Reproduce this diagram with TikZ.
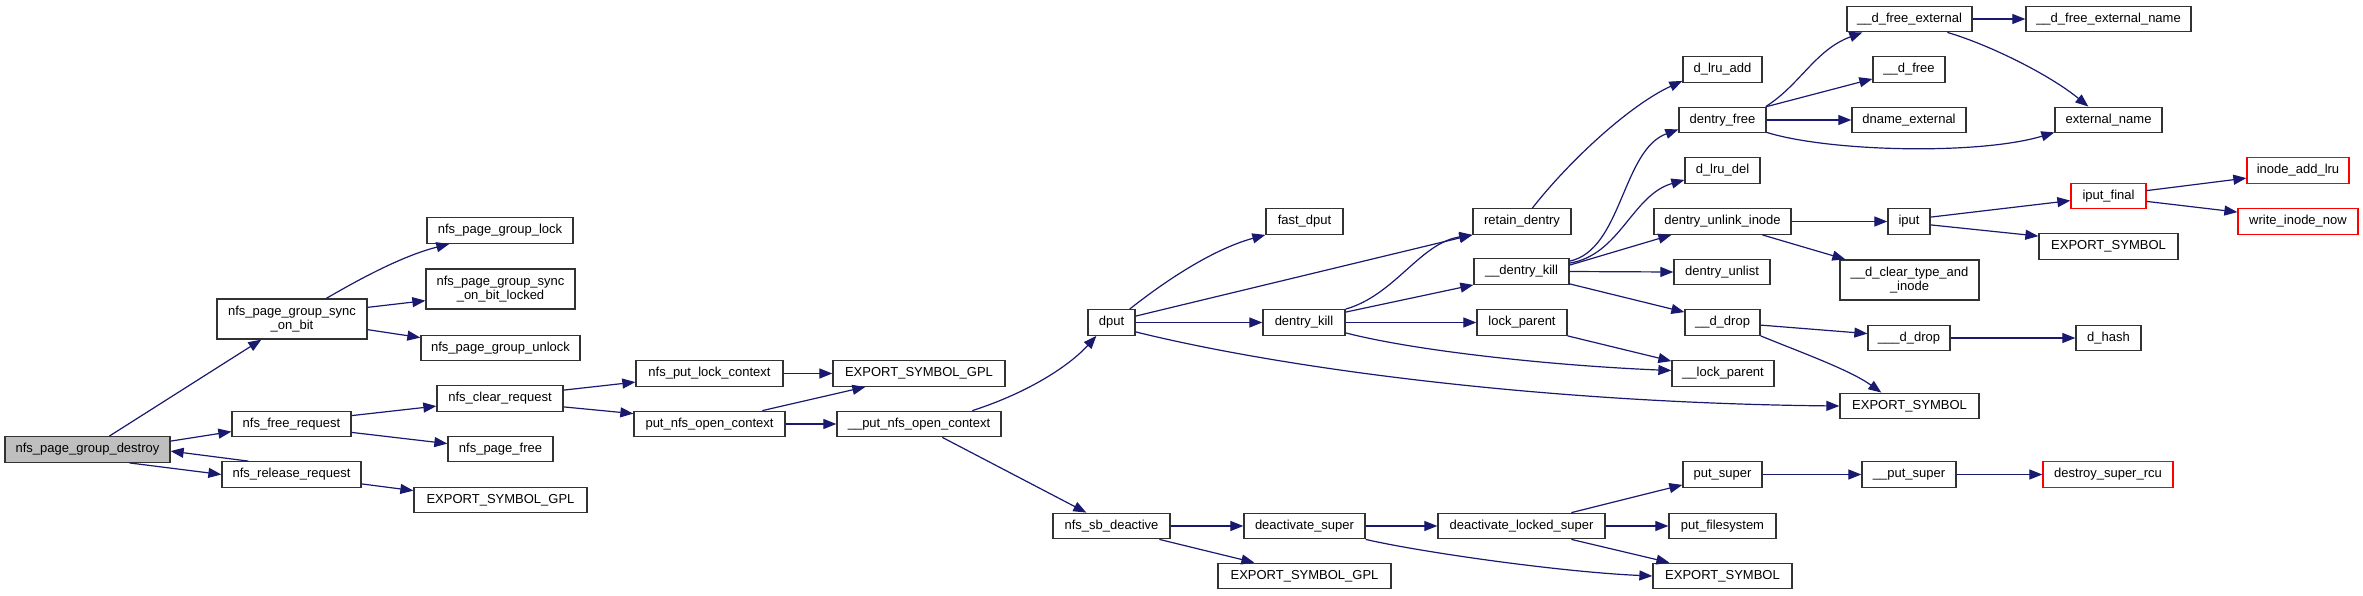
\documentclass[tikz,border=0pt]{standalone}
\usepackage{fontspec}
\setmainfont{Liberation Sans}
\usetikzlibrary{arrows.meta,calc}
\definecolor{edgecol}{RGB}{25,25,112}
\definecolor{boxline}{RGB}{50,50,50}
\begin{document}
\begin{tikzpicture}[x=1pt,y=-1pt,
  box/.style={draw=boxline, line width=1.3pt, fill=white, inner sep=0pt, minimum height=25.5pt, font=\fontsize{13}{14}\selectfont, align=center},
  boxtwo/.style={box, minimum height=40pt},
  rootbox/.style={fill=black!25},
  redbox/.style={draw=red},
  edge/.style={draw=edgecol, line width=1.2pt, -{Triangle[length=13pt,width=10pt]}}]
\fill[white] (0,0) rectangle (2363,595);
\useasboundingbox (0,0) rectangle (2363,595);
% column 0
\node[box,rootbox,minimum width=165pt] (destroy) at (87.5,449.5) {nfs\_page\_group\_destroy};
% column 1
\node[boxtwo,minimum width=150pt] (sync) at (292,319) {nfs\_page\_group\_sync\\\_on\_bit};
\node[box,minimum width=119pt] (freereq) at (291.5,424) {nfs\_free\_request};
\node[box,minimum width=139pt] (release) at (291.5,474.5) {nfs\_release\_request};
% column 2
\node[box,minimum width=146pt] (lock) at (500,230.5) {nfs\_page\_group\_lock};
\node[boxtwo,minimum width=149pt] (locked) at (500.5,289) {nfs\_page\_group\_sync\\\_on\_bit\_locked};
\node[box,minimum width=159pt] (unlock) at (500.5,348) {nfs\_page\_group\_unlock};
\node[box,minimum width=126pt] (clear) at (500,398.5) {nfs\_clear\_request};
\node[box,minimum width=105pt] (pagefree) at (500.5,449) {nfs\_page\_free};
\node[box,minimum width=173pt] (esgone) at (500.5,500) {EXPORT\_SYMBOL\_GPL};
% column 3
\node[box,minimum width=147pt] (putlock) at (709.5,373.5) {nfs\_put\_lock\_context};
\node[box,minimum width=151pt] (putopen) at (709.5,424) {put\_nfs\_open\_context};
% column 4
\node[box,minimum width=172pt] (esgtwo) at (919,373.5) {EXPORT\_SYMBOL\_GPL};
\node[box,minimum width=164pt] (putopentwo) at (919,424) {\_\_put\_nfs\_open\_context};
% column 5
\node[box,minimum width=47pt] (dput) at (1111.5,322.5) {dput};
\node[box,minimum width=117pt] (sbdeact) at (1111.5,526) {nfs\_sb\_deactive};
% column 6
\node[box,minimum width=77pt] (fastdput) at (1304.5,221.5) {fast\_dput};
\node[box,minimum width=82pt] (dkill) at (1304,322.5) {dentry\_kill};
\node[box,minimum width=121pt] (deactsuper) at (1304.5,526) {deactivate\_super};
\node[box,minimum width=173pt] (esgthree) at (1304.5,576) {EXPORT\_SYMBOL\_GPL};
% column 7
\node[box,minimum width=98pt] (retain) at (1522,221.5) {retain\_dentry};
\node[box,minimum width=95pt] (udkill) at (1521.5,271.5) {\_\_dentry\_kill};
\node[box,minimum width=90pt] (lockparent) at (1522,322.5) {lock\_parent};
\node[box,minimum width=167pt] (deactlocked) at (1521.5,526) {deactivate\_locked\_super};
% column 8
\node[box,minimum width=79pt] (dlruadd) at (1722.5,69.5) {d\_lru\_add};
\node[box,minimum width=87pt] (dfree) at (1722.5,120) {dentry\_free};
\node[box,minimum width=75pt] (dlrudel) at (1722.5,170.5) {d\_lru\_del};
\node[box,minimum width=137pt] (unlinkinode) at (1722.5,221.5) {dentry\_unlink\_inode};
\node[box,minimum width=96pt] (unlist) at (1722,272) {dentry\_unlist};
\node[box,minimum width=75pt] (uddrop) at (1722.5,322.5) {\_\_d\_drop};
\node[box,minimum width=102pt] (ulockparent) at (1723,373.5) {\_\_lock\_parent};
\node[box,minimum width=79pt] (putsuper) at (1722.5,474.5) {put\_super};
\node[box,minimum width=107pt] (putfs) at (1722.5,526) {put\_filesystem};
\node[box,minimum width=139pt] (esbottom) at (1722.5,576) {EXPORT\_SYMBOL};
% column 9
\node[box,minimum width=125pt] (udfreeext) at (1909.5,19) {\_\_d\_free\_external};
\node[box,minimum width=72pt] (udfree) at (1909,69.5) {\_\_d\_free};
\node[box,minimum width=114pt] (dnameext) at (1909,120) {dname\_external};
\node[box,minimum width=42pt] (iput) at (1909,221.5) {iput};
\node[boxtwo,minimum width=139pt] (clrtype) at (1909.5,280) {\_\_d\_clear\_type\_and\\\_inode};
\node[box,minimum width=82pt] (uuddrop) at (1909,338) {\_\_\_d\_drop};
\node[box,minimum width=139pt] (esbig) at (1909.5,406) {EXPORT\_SYMBOL};
\node[box,minimum width=94pt] (uputsuper) at (1909,474.5) {\_\_put\_super};
% column 10
\node[box,minimum width=165pt] (dfreeextname) at (2108.5,19) {\_\_d\_free\_external\_name};
\node[box,minimum width=107pt] (extname) at (2108.5,120) {external\_name};
\node[box,redbox,minimum width=75pt] (iputfinal) at (2108.5,196) {iput\_final};
\node[box,minimum width=139pt] (esiput) at (2108.5,246.5) {EXPORT\_SYMBOL};
\node[box,minimum width=65pt] (dhash) at (2108.5,338) {d\_hash};
\node[box,redbox,minimum width=130pt] (destroyrcu) at (2108,474.5) {destroy\_super\_rcu};
% column 11
\node[box,redbox,minimum width=102pt] (inodeaddlru) at (2298,170.5) {inode\_add\_lru};
\node[box,redbox,minimum width=120pt] (writeinode) at (2298,221.5) {write\_inode\_now};
% edges
\draw[edge] ($(destroy.north west)+(105,0)$) -- ($(sync.south west)+(45,0)$);
\draw[edge] ($(destroy.north east)+(0,5)$) -- ($(freereq.north west)+(0,21)$);
\draw[edge] ($(destroy.south west)+(125,0)$) -- (release.west);
\draw[edge] ($(release.north west)+(27,0)$) -- ($(destroy.north east)+(0,15)$);
\draw[edge] ($(sync.north west)+(110,0)$) .. controls (375,270) and (410,254) .. ($(lock.south west)+(23,0)$);
\draw[edge] ($(sync.north east)+(0,9)$) -- ($(locked.south west)+(0,-9)$);
\draw[edge] ($(sync.south east)+(0,-10)$) -- ($(unlock.north west)+(0,3)$);
\draw[edge] ($(freereq.north east)+(0,5)$) -- ($(clear.north west)+(0,21)$);
\draw[edge] ($(freereq.south east)+(0,-5)$) -- ($(pagefree.north west)+(0,8)$);
\draw[edge] ($(release.south east)+(0,-4)$) -- ($(esgone.north west)+(0,4)$);
\draw[edge] ($(clear.north east)+(0,5)$) -- ($(putlock.north west)+(0,22)$);
\draw[edge] ($(clear.south east)+(0,-5)$) -- ($(putopen.north west)+(0,3)$);
\draw[edge] (putlock.east) -- (esgtwo.west);
\draw[edge] ($(putopen.north west)+(129,0)$) -- ($(esgtwo.south west)+(33,0)$);
\draw[edge] (putopen.east) -- (putopentwo.west);
\draw[edge] ($(putopentwo.north west)+(136,0)$) .. controls (1030,392) and (1070,365) .. ($(dput.south west)+(9,0)$);
\draw[edge] ($(putopentwo.south west)+(106,0)$) -- ($(sbdeact.north west)+(34,0)$);
\draw[edge] ($(dput.north east)+(-6,0)$) .. controls (1160,285) and (1210,250) .. (fastdput.south west);
\draw[edge] ($(dput.north east)+(0,7)$) -- (retain.south west);
\draw[edge] (dput.east) -- (dkill.west);
\draw[edge] ($(dput.south east)+(0,-4)$) .. controls (1290,370) and (1550,403) .. (esbig.west);
\draw[edge] (dkill.north east) .. controls (1395,295) and (1420,243) .. (retain.south west);
\draw[edge] ($(dkill.north east)+(0,3)$) -- (udkill.south west);
\draw[edge] (dkill.east) -- (lockparent.west);
\draw[edge] ($(dkill.south east)+(0,-3)$) .. controls (1420,352) and (1560,366) .. ($(ulockparent.west)+(0,-3)$);
\draw[edge] (lockparent.south east) -- ($(ulockparent.north west)+(0,1)$);
\draw[edge] ($(retain.north west)+(60,0)$) .. controls (1570,160) and (1630,105) .. ($(dlruadd.south west)+(0,-2)$);
\draw[edge] ($(udkill.north east)+(0,3)$) .. controls (1622,250) and (1622,150) .. ($(dfree.south west)+(0,-4)$);
\draw[edge] ($(udkill.north east)+(0,5)$) .. controls (1620,255) and (1632,195) .. ($(dlrudel.south west)+(0,-4)$);
\draw[edge] ($(udkill.north east)+(0,7)$) -- ($(unlinkinode.south west)+(18,0)$);
\draw[edge] (udkill.east) -- (unlist.west);
\draw[edge] ($(udkill.south east)+(0,-1)$) -- ($(uddrop.north west)+(0,3)$);
\draw[edge] ($(dfree.north east)+(-1,0)$) .. controls (1800,85) and (1815,50) .. ($(udfreeext.south west)+(16,0)$);
\draw[edge] (dfree.north east) -- ($(udfree.south west)+(0,-4)$);
\draw[edge] (dfree.east) -- (dnameext.west);
\draw[edge] ($(dfree.south east)+(0,-1)$) .. controls (1830,152) and (1980,155) .. ($(extname.south west)+(0,-1)$);
\draw[edge] (udfreeext.east) -- (dfreeextname.west);
\draw[edge] ($(udfreeext.south west)+(101,0)$) .. controls (1990,45) and (2050,75) .. ($(extname.north west)+(34,0)$);
\draw[edge] (unlinkinode.east) -- (iput.west);
\draw[edge] ($(unlinkinode.south west)+(109,0)$) -- ($(clrtype.north west)+(6,0)$);
\draw[edge] ($(iput.north east)+(0,9)$) -- ($(iputfinal.north west)+(0,18)$);
\draw[edge] ($(iput.south east)+(0,-10)$) -- ($(esiput.north west)+(0,3)$);
\draw[edge] ($(iputfinal.north east)+(0,8)$) -- ($(inodeaddlru.north west)+(0,21)$);
\draw[edge] ($(iputfinal.south east)+(0,-8)$) -- ($(writeinode.north west)+(0,4)$);
\draw[edge] ($(uddrop.north east)+(0,16)$) -- ($(uuddrop.north west)+(0,9)$);
\draw[edge] (uddrop.south east) .. controls (1800,352) and (1850,370) .. ($(esbig.north west)+(42,0)$);
\draw[edge] (uuddrop.east) -- (dhash.west);
\draw[edge] (sbdeact.east) -- (deactsuper.west);
\draw[edge] ($(sbdeact.south west)+(107,0)$) -- ($(esgthree.north west)+(37,0)$);
\draw[edge] (deactsuper.east) -- (deactlocked.west);
\draw[edge] (deactsuper.south east) .. controls (1420,552) and (1560,572) .. (esbottom.west);
\draw[edge] ($(deactlocked.north west)+(134,0)$) -- ($(putsuper.south west)+(0,-3)$);
\draw[edge] (deactlocked.east) -- (putfs.west);
\draw[edge] ($(deactlocked.south west)+(134,0)$) -- ($(esbottom.north west)+(17,0)$);
\draw[edge] (putsuper.east) -- (uputsuper.west);
\draw[edge] (uputsuper.east) -- (destroyrcu.west);
\end{tikzpicture}
\end{document}
